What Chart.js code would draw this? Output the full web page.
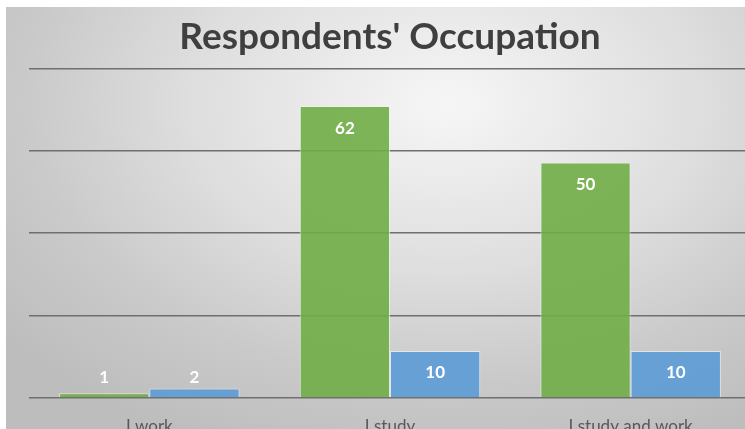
<!DOCTYPE html>
<html>
<head>
<meta charset="utf-8">
<title>Respondents' Occupation</title>
<script src="https://cdn.jsdelivr.net/npm/chart.js@4.4.1/dist/chart.umd.min.js"></script>
<style>
    html, body {
        margin: 0;
        padding: 0;
        background: #ffffff;
        overflow: hidden;
        width: 745px;
        height: 429px;
    }
    #chartBox {
        position: absolute;
        left: 6px;
        top: 7px;
        width: 760px;
        height: 440px;
        background: radial-gradient(ellipse 75% 85% at 58% 22%, #f6f6f6 0%, #dedede 45%, #c9c9c9 75%, #bdbdbd 100%);
    }
</style>
</head>
<body>
<div id="chartBox">
    <canvas id="occupationChart" width="760" height="440"></canvas>
</div>
<script>
// data dari grafik
const categories = ['I work', 'I study', 'I study and work'];
const greenValues = [1, 62, 50];
const blueValues = [2, 10, 10];
const yTicks = [0, 17.5, 35, 52.5, 70];

// label angka putih di dalam batang (atau di atasnya kalau batang terlalu pendek)
const barLabels = {
    id: 'barLabels',
    afterDatasetsDraw: function (chart) {
        const ctx = chart.ctx;
        const base = chart.scales.y.getPixelForValue(0);
        ctx.save();
        ctx.fillStyle = '#ffffff';
        ctx.font = 'bold 17px Lato';
        ctx.textAlign = 'center';
        ctx.textBaseline = 'middle';
        chart.data.datasets.forEach(function (dataset, i) {
            chart.getDatasetMeta(i).data.forEach(function (bar, index) {
                const y = Math.min(bar.y + 22, base - 20);
                ctx.fillText(dataset.data[index], bar.x, y);
            });
        });
        ctx.restore();
    }
};

document.addEventListener('DOMContentLoaded', function () {
    const ctx = document.getElementById('occupationChart').getContext('2d');
    new Chart(ctx, {
        type: 'bar',
        data: {
            labels: categories,
            datasets: [{
                label: 'Series 1',
                data: greenValues,
                backgroundColor: 'rgba(112, 173, 71, 0.9)',
                borderColor: 'rgba(235, 245, 230, 0.7)',
                borderWidth: 1
            }, {
                label: 'Series 2',
                data: blueValues,
                backgroundColor: 'rgba(91, 155, 213, 0.9)',
                borderColor: 'rgba(230, 240, 250, 0.7)',
                borderWidth: 1
            }]
        },
        options: {
            responsive: false,
            animation: false,
            layout: {
                padding: { left: 23, right: 15, top: 8, bottom: 9 }
            },
            datasets: {
                bar: {
                    categoryPercentage: 0.75,
                    barPercentage: 1
                }
            },
            plugins: {
                legend: { display: false },
                tooltip: { enabled: false },
                title: {
                    display: true,
                    text: "Respondents' Occupation",
                    color: '#3f3f3f',
                    font: { family: 'Lato', size: 37, weight: 'bold', lineHeight: 1.2 },
                    padding: { top: 0, bottom: 9 }
                }
            },
            scales: {
                x: {
                    grid: { display: false, drawTicks: false },
                    border: { display: false },
                    ticks: {
                        color: '#595959',
                        font: { family: 'Lato', size: 17 },
                        padding: 18
                    },
                    afterFit: function (scale) {
                        scale.height = 40;
                    }
                },
                y: {
                    min: 0,
                    max: 70,
                    afterBuildTicks: function (scale) {
                        scale.ticks = yTicks.map(function (v) { return { value: v }; });
                    },
                    grid: {
                        color: '#6f6f6f',
                        lineWidth: 1.5,
                        drawTicks: false
                    },
                    border: { display: false },
                    ticks: { display: false },
                    afterFit: function (scale) {
                        scale.width = 0;
                    }
                }
            }
        },
        plugins: [barLabels]
    });
});
</script>
</body>
</html>
